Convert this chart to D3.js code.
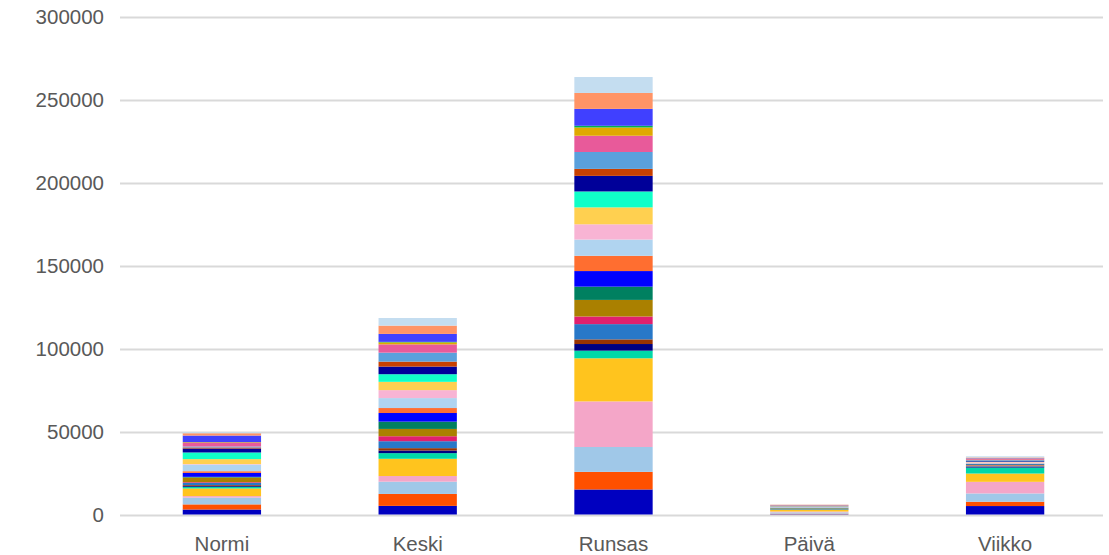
<!DOCTYPE html>
<html>
<head>
<meta charset="utf-8">
<script src="https://cdn.jsdelivr.net/npm/d3@7"></script>
<style>
  html, body { margin: 0; padding: 0; background: #fff; }
  svg { display: block; }
  text { font-family: "Liberation Sans", Arial, sans-serif; fill: #595959; }
</style>
</head>
<body>
<svg id="chart" width="1109" height="555"></svg>
<script>
// Categories along the x axis
const categories = ["Normi", "Keski", "Runsas", "Päivä", "Viikko"];

// Value ticks on the y axis
const yTicks = [0, 50000, 100000, 150000, 200000, 250000, 300000];

// Stacked series values for each category, bottom segment first
const normi  = [3000, 3100, 4100, 900, 4600, 1000, 500, 500, 1400, 400, 2800, 400, 2400, 1000,
                4000, 300, 3000, 4000, 2400, 600, 600, 2200, 400, 0, 4000, 1400, 600];
const keski  = [5200, 7200, 7400, 3400, 10400, 3400, 1600, 1400, 4200, 3000, 4400, 4400, 5200, 3000,
                6000, 4800, 5000, 4600, 4600, 3000, 5400, 5000, 1200, 300, 4800, 5000, 4600];
const runsas = [15100, 10600, 15000, 27500, 26000, 4600, 4000, 2800, 9200, 4600, 10000, 8000, 9400, 9200,
                9800, 9200, 10200, 9600, 9400, 4200, 10200, 9800, 5000, 1000, 10200, 9600, 9600];
const paiva  = [200, 300, 800, 500, 1000, 200, 100, 100, 200, 100, 200, 300, 100, 100,
                300, 200, 200, 100, 100, 100, 100, 200, 100, 0, 100, 200, 100];
const viikko = [5100, 2600, 5000, 7000, 5000, 3600, 500, 200, 300, 300, 300, 400, 200, 200,
                300, 500, 200, 200, 400, 200, 400, 500, 200, 0, 300, 500, 700];

// Segment colours, bottom segment first
const colors = ["#0000C0", "#FF5000", "#A0C8E8", "#F4A6C8", "#FFC41E", "#00D8A8", "#000080",
                "#993300", "#2878C8", "#E0206E", "#AA8000", "#008060", "#0000FF", "#FF6E30",
                "#B0D4F0", "#F8B4D4", "#FFD050", "#10FFC8", "#000099", "#C84000", "#5AA0DC",
                "#E85A9A", "#E0A800", "#00B050", "#4040FF", "#FF9466", "#C4DDF0"];

const columns = [normi, keski, runsas, paiva, viikko];
const seriesKeys = colors.map((c, i) => "s" + (i + 1));
const rows = categories.map((cat, ci) => {
  const row = { category: cat };
  seriesKeys.forEach((k, si) => { row[k] = columns[ci][si]; });
  return row;
});

const svg = d3.select("#chart");
const x = d3.scaleBand().domain(categories).range([124, 1103]).paddingInner(0.6).paddingOuter(0.3);
const y = d3.scaleLinear().domain([0, 300000]).range([514.5, 17]);

// Horizontal grid lines
svg.append("g")
  .selectAll("line")
  .data(yTicks)
  .join("line")
  .attr("x1", 120).attr("x2", 1103)
  .attr("y1", d => Math.round(y(d)) + 0.5)
  .attr("y2", d => Math.round(y(d)) + 0.5)
  .attr("stroke", "#D9D9D9")
  .attr("stroke-width", 2);

// Y axis labels
const yAxis = d3.axisLeft(y).tickValues(yTicks).tickSize(0).tickPadding(0).tickFormat(d3.format("d"));
svg.append("g")
  .attr("transform", "translate(104,0)")
  .call(yAxis)
  .call(g => g.select(".domain").remove())
  .selectAll("text")
  .style("font-size", "20.5px")
  .attr("fill", "#595959");

// Stacked bars
const stack = d3.stack().keys(seriesKeys);
const layers = stack(rows);
svg.append("g")
  .selectAll("g")
  .data(layers)
  .join("g")
  .attr("fill", (d, i) => colors[i])
  .selectAll("rect")
  .data(d => d)
  .join("rect")
  .attr("x", d => x(d.data.category))
  .attr("width", x.bandwidth())
  .attr("y", d => y(d[1]))
  .attr("height", d => Math.max(0, y(d[0]) - y(d[1])));

// Category labels
const xAxis = d3.axisBottom(x).tickSize(0).tickPadding(0);
svg.append("g")
  .attr("transform", "translate(0,536)")
  .call(xAxis)
  .call(g => g.select(".domain").remove())
  .selectAll("text")
  .style("font-size", "20.5px")
  .attr("fill", "#595959");
</script>
</body>
</html>
